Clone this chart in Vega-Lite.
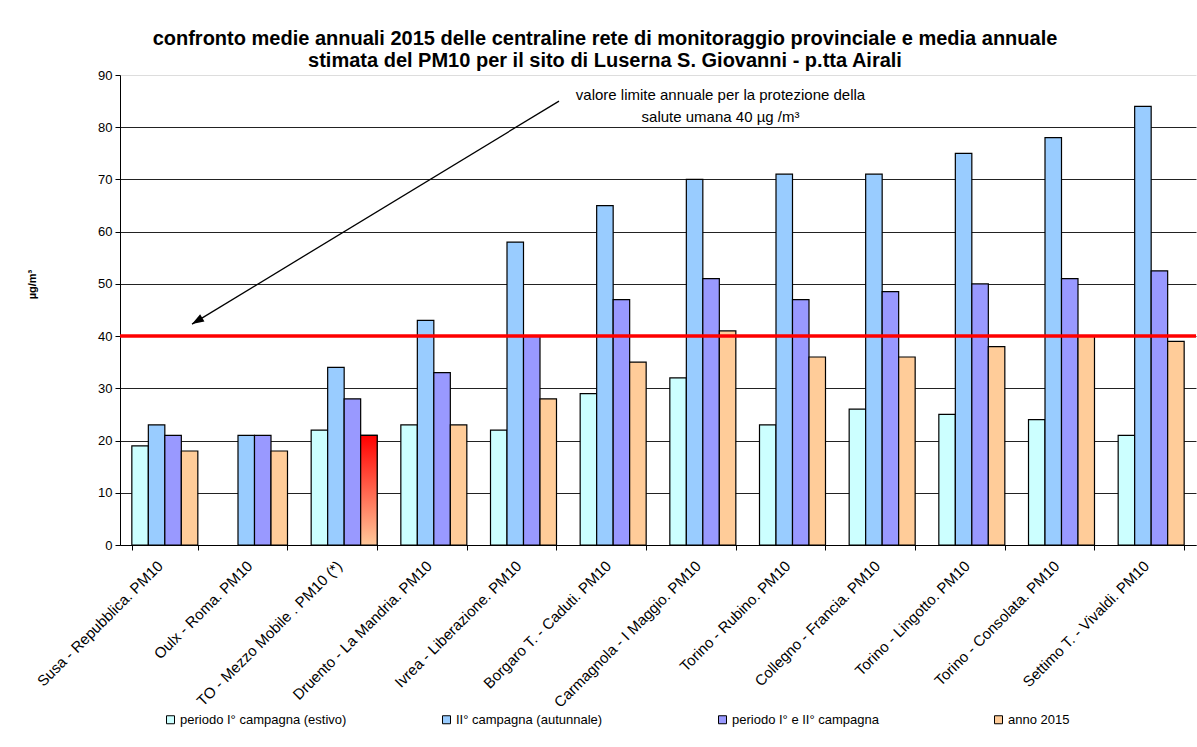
{
  "$schema": "https://vega.github.io/schema/vega-lite/v6.json",
  "width": 1076,
  "height": 470,
  "autosize": "none",
  "padding": {"left": 120, "top": 75, "right": 1, "bottom": 202},
  "background": "white",
  "config": {"font": "Liberation Sans", "view": {"stroke": null}},
  "title": {
    "text": ["confronto medie annuali 2015 delle centraline rete di monitoraggio provinciale e media annuale", "stimata  del PM10 per il sito di Luserna S. Giovanni - p.tta Airali"],
    "fontSize": 20,
    "fontWeight": "bold",
    "color": "#000",
    "anchor": "middle",
    "dx": -53,
    "offset": -2,
    "lineHeight": 22
  },
  "datasets": {
    "bars": [
      {"station": "Susa - Repubblica. PM10", "series": "periodo I° campagna (estivo)", "value": 19},
      {"station": "Susa - Repubblica. PM10", "series": "II° campagna (autunnale)", "value": 23},
      {"station": "Susa - Repubblica. PM10", "series": "periodo I° e II° campagna", "value": 21},
      {"station": "Susa - Repubblica. PM10", "series": "anno 2015", "value": 18},
      {"station": "Oulx - Roma. PM10", "series": "II° campagna (autunnale)", "value": 21},
      {"station": "Oulx - Roma. PM10", "series": "periodo I° e II° campagna", "value": 21},
      {"station": "Oulx - Roma. PM10", "series": "anno 2015", "value": 18},
      {"station": "TO - Mezzo Mobile . PM10 (*)", "series": "periodo I° campagna (estivo)", "value": 22},
      {"station": "TO - Mezzo Mobile . PM10 (*)", "series": "II° campagna (autunnale)", "value": 34},
      {"station": "TO - Mezzo Mobile . PM10 (*)", "series": "periodo I° e II° campagna", "value": 28},
      {"station": "TO - Mezzo Mobile . PM10 (*)", "series": "anno 2015", "value": 21},
      {"station": "Druento - La Mandria. PM10", "series": "periodo I° campagna (estivo)", "value": 23},
      {"station": "Druento - La Mandria. PM10", "series": "II° campagna (autunnale)", "value": 43},
      {"station": "Druento - La Mandria. PM10", "series": "periodo I° e II° campagna", "value": 33},
      {"station": "Druento - La Mandria. PM10", "series": "anno 2015", "value": 23},
      {"station": "Ivrea - Liberazione. PM10", "series": "periodo I° campagna (estivo)", "value": 22},
      {"station": "Ivrea - Liberazione. PM10", "series": "II° campagna (autunnale)", "value": 58},
      {"station": "Ivrea - Liberazione. PM10", "series": "periodo I° e II° campagna", "value": 40},
      {"station": "Ivrea - Liberazione. PM10", "series": "anno 2015", "value": 28},
      {"station": "Borgaro T. - Caduti. PM10", "series": "periodo I° campagna (estivo)", "value": 29},
      {"station": "Borgaro T. - Caduti. PM10", "series": "II° campagna (autunnale)", "value": 65},
      {"station": "Borgaro T. - Caduti. PM10", "series": "periodo I° e II° campagna", "value": 47},
      {"station": "Borgaro T. - Caduti. PM10", "series": "anno 2015", "value": 35},
      {"station": "Carmagnola - I Maggio. PM10", "series": "periodo I° campagna (estivo)", "value": 32},
      {"station": "Carmagnola - I Maggio. PM10", "series": "II° campagna (autunnale)", "value": 70},
      {"station": "Carmagnola - I Maggio. PM10", "series": "periodo I° e II° campagna", "value": 51},
      {"station": "Carmagnola - I Maggio. PM10", "series": "anno 2015", "value": 41},
      {"station": "Torino - Rubino. PM10", "series": "periodo I° campagna (estivo)", "value": 23},
      {"station": "Torino - Rubino. PM10", "series": "II° campagna (autunnale)", "value": 71},
      {"station": "Torino - Rubino. PM10", "series": "periodo I° e II° campagna", "value": 47},
      {"station": "Torino - Rubino. PM10", "series": "anno 2015", "value": 36},
      {"station": "Collegno - Francia. PM10", "series": "periodo I° campagna (estivo)", "value": 26},
      {"station": "Collegno - Francia. PM10", "series": "II° campagna (autunnale)", "value": 71},
      {"station": "Collegno - Francia. PM10", "series": "periodo I° e II° campagna", "value": 48.5},
      {"station": "Collegno - Francia. PM10", "series": "anno 2015", "value": 36},
      {"station": "Torino - Lingotto. PM10", "series": "periodo I° campagna (estivo)", "value": 25},
      {"station": "Torino - Lingotto. PM10", "series": "II° campagna (autunnale)", "value": 75},
      {"station": "Torino - Lingotto. PM10", "series": "periodo I° e II° campagna", "value": 50},
      {"station": "Torino - Lingotto. PM10", "series": "anno 2015", "value": 38},
      {"station": "Torino - Consolata. PM10", "series": "periodo I° campagna (estivo)", "value": 24},
      {"station": "Torino - Consolata. PM10", "series": "II° campagna (autunnale)", "value": 78},
      {"station": "Torino - Consolata. PM10", "series": "periodo I° e II° campagna", "value": 51},
      {"station": "Torino - Consolata. PM10", "series": "anno 2015", "value": 40},
      {"station": "Settimo T. - Vivaldi. PM10", "series": "periodo I° campagna (estivo)", "value": 21},
      {"station": "Settimo T. - Vivaldi. PM10", "series": "II° campagna (autunnale)", "value": 84},
      {"station": "Settimo T. - Vivaldi. PM10", "series": "periodo I° e II° campagna", "value": 52.5},
      {"station": "Settimo T. - Vivaldi. PM10", "series": "anno 2015", "value": 39}
    ],
    "limit": [{"limit": 40}],
    "arrow": [
      {"ax": 4.896, "ay": 85.0, "head": false},
      {"ax": 0.803, "ay": 42.3, "head": true}
    ],
    "note": [
      {"nx": 6.697, "ny": 86.2, "text": "valore limite annuale per la protezione della"},
      {"nx": 6.697, "ny": 82.0, "text": "salute umana 40 µg /m³"}
    ]
  },
  "layer": [
    {
      "data": {"name": "bars"},
      "encoding": {
        "x": {
          "field": "station",
          "type": "nominal",
          "sort": null,
          "scale": {"paddingInner": 0.264, "paddingOuter": 0.132},
          "axis": {
            "title": null,
            "labelAngle": -45,
            "labelFontSize": 15,
            "labelColor": "#000",
            "labelLimit": 400,
            "labelPadding": 8,
            "labelOffset": -10,
            "domainColor": "#000",
            "tickColor": "#000",
            "tickSize": 5,
            "tickBand": "extent"
          }
        },
        "xOffset": {
          "field": "series",
          "type": "nominal",
          "scale": {
            "domain": ["periodo I° campagna (estivo)", "II° campagna (autunnale)", "periodo I° e II° campagna", "anno 2015"],
            "paddingInner": 0,
            "paddingOuter": 0
          }
        },
        "y": {
          "field": "value",
          "type": "quantitative",
          "title": "µg/m³",
          "scale": {"domain": [0, 90], "nice": false},
          "axis": {
            "values": [0, 10, 20, 30, 40, 50, 60, 70, 80, 90],
            "labelFontSize": 13,
            "labelColor": "#000",
            "labelPadding": 3,
            "domainColor": "#000",
            "tickColor": "#000",
            "tickSize": 5,
            "grid": true,
            "gridColor": {"condition": {"test": "datum.value == 90", "value": "#dddddd"}, "value": "#222222"},
            "gridWidth": 1,
            "titleFontSize": 11,
            "titleFontWeight": "bold",
            "titleColor": "#000",
            "titleX": -88,
            "titleY": 209,
            "titleAngle": -90,
            "titleAlign": "center",
            "titleBaseline": "middle"
          }
        }
      },
      "layer": [
        {
          "mark": {"type": "bar", "stroke": "#000", "strokeWidth": 1.2},
          "encoding": {
            "color": {
              "field": "series",
              "type": "nominal",
              "scale": {
                "domain": ["periodo I° campagna (estivo)", "II° campagna (autunnale)", "periodo I° e II° campagna", "anno 2015"],
                "range": ["#CCFFFF", "#99CCFF", "#9999FF", "#FFCC99"]
              },
              "legend": {
                "title": null,
                "orient": "none",
                "legendX": 44,
                "legendY": 638,
                "direction": "horizontal",
                "columns": 4,
                "gridAlign": "all",
                "columnPadding": 93,
                "symbolType": "square",
                "symbolSize": 64,
                "symbolStrokeColor": "#000",
                "symbolStrokeWidth": 1,
                "symbolOpacity": 1,
                "labelFontSize": 13,
                "labelColor": "#000",
                "labelLimit": 400,
                "labelOffset": 3
              }
            }
          }
        },
        {
          "transform": [{"filter": "datum.station === 'TO - Mezzo Mobile . PM10 (*)' && datum.series === 'anno 2015'"}],
          "mark": {
            "type": "bar",
            "stroke": "#000",
            "strokeWidth": 1.2,
            "color": {
              "gradient": "linear",
              "x1": 0, "y1": 0, "x2": 0, "y2": 1,
              "stops": [{"offset": 0, "color": "#FF0000"}, {"offset": 1, "color": "#FFC89A"}]
            }
          }
        }
      ]
    },
    {
      "layer": [
        {
          "data": {"name": "limit"},
          "mark": {"type": "rule", "color": "#FF0000", "strokeWidth": 3.5},
          "encoding": {
            "y": {"field": "limit", "type": "quantitative", "title": "µg/m³"}
          }
        },
        {
          "data": {"name": "arrow"},
          "mark": {"type": "line", "color": "#000", "strokeWidth": 1.3},
          "encoding": {
            "x": {"field": "ax", "type": "quantitative", "scale": {"domain": [0, 12], "nice": false, "zero": false}, "axis": null},
            "y": {"field": "ay", "type": "quantitative", "title": "µg/m³"}
          }
        },
        {
          "data": {"name": "arrow"},
          "transform": [{"filter": "datum.head"}],
          "mark": {"type": "point", "shape": "M0,0L0.7,2L-0.7,2Z", "filled": true, "color": "#000", "opacity": 1, "size": 144, "angle": 239},
          "encoding": {
            "x": {"field": "ax", "type": "quantitative", "scale": {"domain": [0, 12], "nice": false, "zero": false}, "axis": null},
            "y": {"field": "ay", "type": "quantitative", "title": "µg/m³"}
          }
        },
        {
          "data": {"name": "note"},
          "mark": {"type": "text", "fontSize": 15, "color": "#000", "align": "center", "baseline": "middle"},
          "encoding": {
            "x": {"field": "nx", "type": "quantitative", "scale": {"domain": [0, 12], "nice": false, "zero": false}, "axis": null},
            "y": {"field": "ny", "type": "quantitative", "title": "µg/m³"},
            "text": {"field": "text"}
          }
        }
      ]
    }
  ],
  "resolve": {"scale": {"x": "independent"}, "axis": {"x": "independent"}}
}
